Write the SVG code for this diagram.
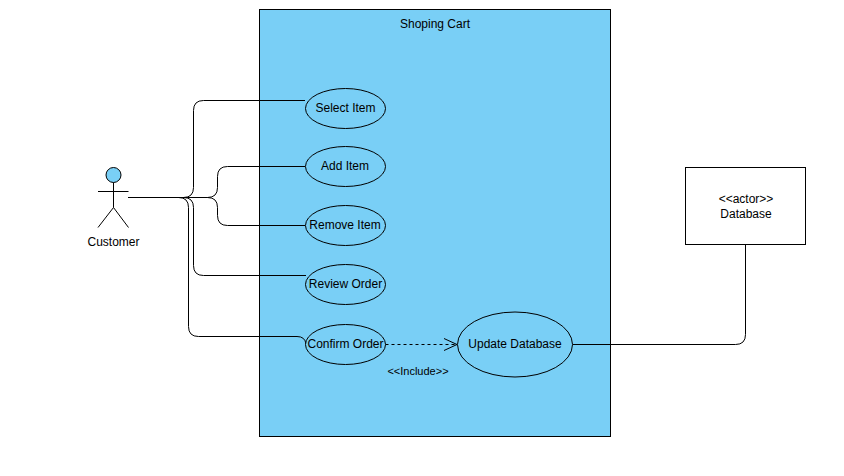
<svg xmlns="http://www.w3.org/2000/svg" width="844" height="476" viewBox="0 0 844 476">
<style>
.n{fill:#000;font-family:"Liberation Sans",Arial,sans-serif;font-size:12px;text-anchor:middle}
.s{font-size:11px}
.u{fill:#79cff6;stroke:#000;stroke-width:1}
.c{fill:none;stroke:#000;stroke-width:1}
</style>
<defs>
<marker id="open" markerUnits="userSpaceOnUse" markerWidth="16" markerHeight="16" refX="14" refY="8" orient="auto"><path d="M1 2 L14 8 L1 14" fill="none" stroke="#000"/></marker>
</defs>
<rect width="844" height="476" fill="#fff"/>
<g id="system"><rect class="u" x="259.5" y="9.5" width="351" height="427"/><text class="n" x="435" y="28">Shoping Cart</text></g>
<g id="connectors">
<path class="c" d="M128 197.500H183.500Q193.500 197.500 193.500 187.500V110.500Q193.500 100.500 203.500 100.500H305"/>
<path class="c" d="M128 197.500H207.500Q217.500 197.500 217.500 187.500V176.500Q217.500 166.500 227.500 166.500H305"/>
<path class="c" d="M128 197.500H207.500Q217.500 197.500 217.500 207.500V215.500Q217.500 225.500 227.500 225.500H305"/>
<path class="c" d="M128 197.500H183.500Q193.500 197.500 193.500 207.500V265.500Q193.500 275.500 203.500 275.500H306"/>
<path class="c" d="M128 197.500H178.500Q188.500 197.500 188.500 207.500V326.500Q188.500 336.500 198.500 336.500H297Q305 336.500 306 344"/>
<path class="c" d="M385.500 344.500H457" stroke-dasharray="3 3" marker-end="url(#open)"/>
<path class="c" d="M572.500 344.500H735.500Q745.500 344.500 745.500 334.500V244.500"/>
<text class="n s" x="418" y="375">&lt;&lt;Include&gt;&gt;</text>
</g>
<g id="customer">
<circle class="u" cx="113.500" cy="175" r="7.500"/>
<path class="c" d="M113.500 182.500V207.500M98 191.500H128.500M113.500 207.500L98 227.500M113.500 207.500L128.500 227.500"/>
<text class="n" x="113.500" y="246">Customer</text>
</g>
<g id="select-item"><ellipse class="u" cx="345.500" cy="108.500" rx="40" ry="20"/><text class="n" x="345.500" y="112">Select Item</text></g>
<g id="add-item"><ellipse class="u" cx="345.500" cy="166.500" rx="40" ry="20"/><text class="n" x="345" y="170">Add Item</text></g>
<g id="remove-item"><ellipse class="u" cx="345.500" cy="225.500" rx="40" ry="20"/><text class="n" x="345" y="229">Remove Item</text></g>
<g id="review-order"><ellipse class="u" cx="345.500" cy="284.500" rx="40" ry="20"/><text class="n" x="345.500" y="288">Review Order</text></g>
<g id="confirm-order"><ellipse class="u" cx="345.500" cy="344.500" rx="40" ry="20"/><text class="n" x="345.500" y="348">Confirm Order</text></g>
<g id="update-database"><ellipse class="u" cx="515" cy="344.500" rx="57.500" ry="32.500"/><text class="n" x="515" y="348">Update Database</text></g>
<g id="database"><rect x="685.500" y="167.500" width="120" height="77" fill="#fff" stroke="#000"/><text class="n" x="746" y="203">&lt;&lt;actor&gt;&gt;</text><text class="n" x="746" y="218">Database</text></g>
</svg>
